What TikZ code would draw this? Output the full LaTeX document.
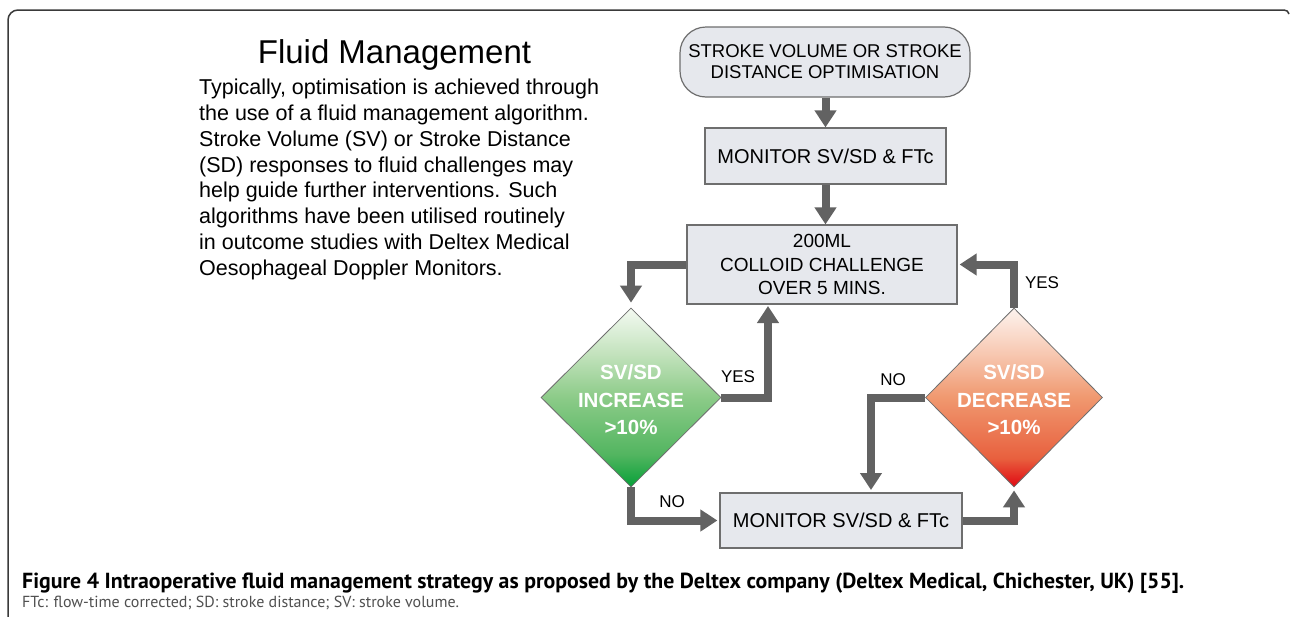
\documentclass[tikz,border=0pt]{standalone}
\usepackage{fontspec}
\setmainfont{Liberation Sans}
\newfontfamily\capfont{PT Sans}
\usetikzlibrary{arrows.meta,shapes.geometric,calc}
\definecolor{boxfill}{HTML}{E6E8ED}
\definecolor{boxline}{HTML}{6E6E6E}
\definecolor{arrowgray}{HTML}{626262}
\definecolor{framegray}{HTML}{3A3A3A}
\definecolor{captiongray}{HTML}{505050}
\definecolor{gtop}{HTML}{F4FAF2}
\definecolor{gup}{HTML}{C2E2BC}
\definecolor{gmid}{HTML}{8CCB88}
\definecolor{glow}{HTML}{52B560}
\definecolor{gbot}{HTML}{06A038}
\definecolor{rtop}{HTML}{FDF3EE}
\definecolor{rup}{HTML}{F7C7B0}
\definecolor{rmid}{HTML}{F0986F}
\definecolor{rlow}{HTML}{E8603E}
\definecolor{rbot}{HTML}{E00812}
\pgfdeclareverticalshading{greenshade}{100bp}{color(0bp)=(gbot); color(25bp)=(gbot); color(34bp)=(glow); color(50bp)=(gmid); color(62bp)=(gup); color(75bp)=(gtop); color(100bp)=(gtop)}
\pgfdeclareverticalshading{redshade}{100bp}{color(0bp)=(rbot); color(25bp)=(rbot); color(33bp)=(rlow); color(50bp)=(rmid); color(62bp)=(rup); color(75bp)=(rtop); color(100bp)=(rtop)}
\tikzset{
  flowbox/.style={draw=boxline, line width=1.2pt, fill=boxfill, inner sep=0pt, align=center,
    font=\fontsize{19}{23.5}\selectfont},
  decision/.style={diamond, draw=boxline, line width=0.8pt, inner sep=0pt},
  thickarrow/.style={draw=arrowgray, line width=8pt, -{Triangle[width=21pt,length=17pt]}},
  yesno/.style={font=\fontsize{17}{20}\selectfont, inner sep=0pt},
  dtext/.style={text=white, align=center, inner sep=0pt, font=\bfseries\fontsize{20.5}{27.5}\selectfont},
}
\begin{document}
\begin{tikzpicture}[x=1pt,y=-1pt]
\useasboundingbox (0,0) rectangle (1290,616);
\fill[white] (0,0) rectangle (1290,616);
% frame
\draw[framegray, line width=1.5pt, rounded corners=10pt] (8,620) -- (8,10) -- (1284,10);
\draw[framegray, line width=1.5pt] (1284,10) to[out=0,in=100] (1289,14);

% left text
\node[font=\fontsize{33}{38}\selectfont, inner sep=0pt] (title) at (394.5,55) {Fluid Management};
\node[anchor=north west, align=left, inner sep=0pt, font=\fontsize{21.5}{25.8}\selectfont] (body) at (199,79)
 {Typically, optimisation is achieved through\\
  the use of a fluid management algorithm.\\
  Stroke Volume (SV) or Stroke Distance\\
  (SD) responses to fluid challenges may\\
  help guide further interventions. Such\\
  algorithms have been utilised routinely\\
  in outcome studies with Deltex Medical\\
  Oesophageal Doppler Monitors.};

% flowchart nodes
\node[flowbox, rounded corners=26pt, minimum width=290pt, minimum height=70pt, font=\fontsize{18.5}{21}\selectfont]
  (term) at (825,62) {STROKE VOLUME OR STROKE\\DISTANCE OPTIMISATION};
\node[flowbox, minimum width=241pt, minimum height=56pt, font=\fontsize{20}{24}\selectfont]
  (mon1) at (825.5,156) {MONITOR SV/SD \& FTc};
\node[flowbox, minimum width=270pt, minimum height=79pt]
  (chal) at (822,264.5) {200ML\\COLLOID CHALLENGE\\OVER 5 MINS.};
\node[decision, minimum width=180pt, minimum height=179pt, shading=greenshade]
  (inc) at (631,397.5) {};
\node[dtext] (inctext) at (631,400) {SV/SD\\INCREASE\\>10\%};
\node[decision, minimum width=177pt, minimum height=179pt, shading=redshade]
  (dec) at (1014,397.5) {};
\node[dtext] (dectext) at (1014,400) {SV/SD\\DECREASE\\>10\%};
\node[flowbox, minimum width=242pt, minimum height=55pt, font=\fontsize{20}{24}\selectfont]
  (mon2) at (841,520.5) {MONITOR SV/SD \& FTc};

% helper coordinates
\coordinate (yesup) at (768,306);
\coordinate (nodown) at (871,490);

% connectors
\draw[thickarrow] (term.south -| mon1.north) -- (mon1.north);
\draw[thickarrow] (mon1.south) -- (mon1.south |- chal.north);
\draw[thickarrow] (chal.west) -| ([yshift=5pt]inc.north);
\draw[thickarrow] (inc.east) -| (yesup);
\draw[thickarrow] (dec.north) |- ([xshift=2pt]chal.east);
\draw[thickarrow] (dec.west) -| (nodown);
\draw[thickarrow] (inc.south) |- ([xshift=-2pt]mon2.west);
\draw[thickarrow] (mon2.east) -| ([yshift=-3pt]dec.south);

% labels
\node[yesno] (yes1) at (738,377) {YES};
\node[yesno] (yes2) at (1042,283) {YES};
\node[yesno] (no1) at (893,380) {NO};
\node[yesno] (no2) at (672,502) {NO};

% caption
\node[anchor=base west, inner sep=0pt, font=\capfont\bfseries\fontsize{21.8}{24}\selectfont] (cap1) at (22,588)
  {Figure 4 Intraoperative fluid management strategy as proposed by the Deltex company (Deltex Medical, Chichester, UK) [55].};
\node[anchor=base west, inner sep=0pt, text=captiongray, font=\capfont\fontsize{16}{20}\selectfont] (cap2) at (22,607)
  {FTc: flow-time corrected; SD: stroke distance; SV: stroke volume.};
\end{tikzpicture}
\end{document}
